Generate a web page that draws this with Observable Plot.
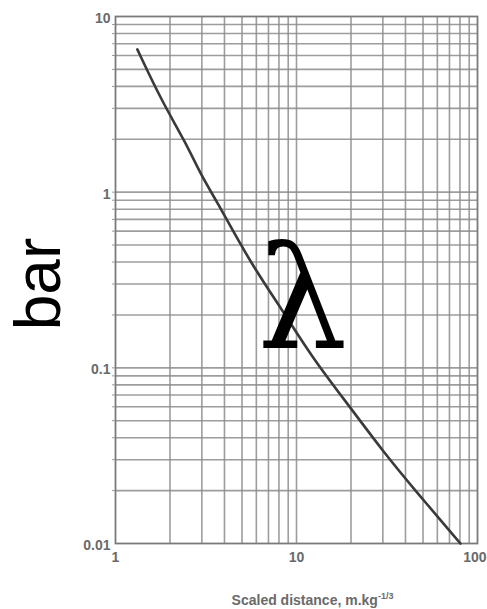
<!DOCTYPE html>
<html><head><meta charset="utf-8">
<script src="https://cdn.jsdelivr.net/npm/d3@7"></script>
<script src="https://cdn.jsdelivr.net/npm/@observablehq/plot@0.6"></script>
<style>body{margin:0;background:#fff}</style>
</head><body><div id="chart"></div>
<script>
// Curve (scaled distance vs overpressure, bar)
const distance = [1.32, 1.80, 2.41, 3.03, 3.54, 5.53, 8.31, 12.3, 19.8, 29.8, 46.5, 80.5];
const pressure = [6.5, 3.3, 1.97, 1.2, 0.93, 0.40, 0.215, 0.113, 0.0596, 0.0338, 0.0194, 0.0100];

// Grid and ticks
const xGrid = [2, 3, 4, 5, 6, 7, 8, 9, 10, 20, 30, 40, 50, 60, 70, 80, 90];
const yGrid = [0.02, 0.03, 0.04, 0.05, 0.06, 0.07, 0.08, 0.09, 0.1,
               0.2, 0.3, 0.4, 0.5, 0.6, 0.7, 0.8, 0.9, 1,
               2, 3, 4, 5, 6, 7, 8, 9];
const xTickValues = [1, 10];
const xTickLabels = ["1", "10"];
const xLastTick = [100];
const xLastLabel = ["100"];
const yTickValues = [0.01, 0.1, 1, 10];
const yTickLabels = ["0.01", "0.1", "1", "10"];
const yMinorTicks = yGrid;

const yLabel = "bar";
const symbol = "λ";
const xTitle = "Scaled distance, m.kg";
const xTitleSup = "-1/3";

const data = distance.map((d, i) => ({distance: d, pressure: pressure[i]}));

const chart = Plot.plot({
  width: 487,
  height: 609,
  marginLeft: 115,
  marginRight: 10,
  marginTop: 16,
  marginBottom: 66,
  style: {fontFamily: "'Liberation Sans', Arial, sans-serif", fontSize: "14px", background: "#fff"},
  x: {type: "log", domain: [1, 100]},
  y: {type: "log", domain: [0.01, 10]},
  marks: [
    Plot.ruleX(xGrid, {stroke: "#8c8c8c", strokeWidth: 1.6, strokeOpacity: 0.85}),
    Plot.ruleY(yGrid, {stroke: "#8c8c8c", strokeWidth: 1.6, strokeOpacity: 0.85}),
    Plot.frame({stroke: "#7a7a7a", strokeWidth: 1.8}),
    Plot.line(data, {x: "distance", y: "pressure", curve: "basis", stroke: "#3a3a3a", strokeWidth: 2.6}),
    Plot.axisY({ticks: yMinorTicks, tickSize: 3, tickFormat: () => "", label: null, stroke: "#999"}),
    Plot.axisY({ticks: yTickValues, tickSize: 0, tickPadding: 5, dy: 2,
      tickFormat: d => yTickLabels[yTickValues.indexOf(d)], label: null, fill: "#6a6a6a", fontWeight: "bold"}),
    Plot.axisX({ticks: xTickValues, tickSize: 0, tickPadding: 9,
      tickFormat: d => xTickLabels[xTickValues.indexOf(d)], label: null, fill: "#6a6a6a", fontWeight: "bold"}),
    Plot.axisX({ticks: xLastTick, tickSize: 0, tickPadding: 9, textAnchor: "end", dx: 9,
      tickFormat: d => xLastLabel[xLastTick.indexOf(d)], label: null, fill: "#6a6a6a", fontWeight: "bold"}),
    Plot.text([yLabel], {frameAnchor: "left", text: d => d, rotate: -90, fontSize: 64,
      dx: -76, dy: 4, textAnchor: "middle", lineAnchor: "middle", fill: "#000",
      fontFamily: "'Liberation Sans', Arial, sans-serif"}),
    Plot.text([symbol], {frameAnchor: "middle", text: d => d, fontSize: 142,
      dx: 6, dy: 23, textAnchor: "middle", lineAnchor: "middle", fill: "#000",
      fontFamily: "'DejaVu Serif', serif"}),
    Plot.text([xTitle], {frameAnchor: "bottom", text: d => d, fontSize: 14,
      dx: 16, dy: 57, textAnchor: "middle", lineAnchor: "middle", fill: "#6a6a6a", fontWeight: "bold", className: "xtitle"})
  ]
});

d3.select(chart).selectAll(".xtitle text").append("tspan")
  .attr("dy", "-6").attr("font-size", "9").text(xTitleSup);

document.getElementById("chart").appendChild(chart);
</script>
</body></html>
